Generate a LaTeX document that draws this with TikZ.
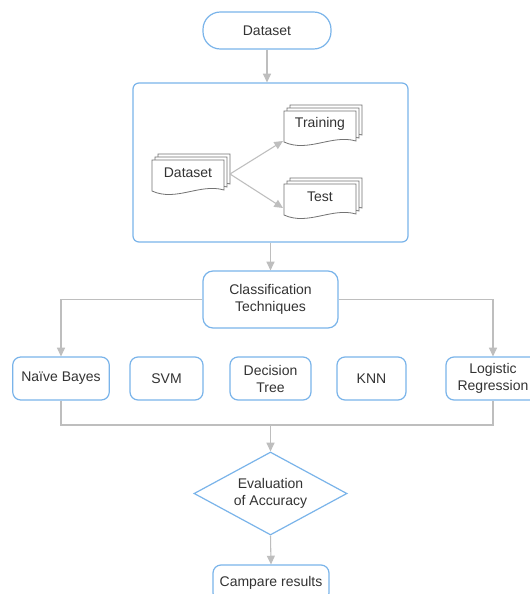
\documentclass[tikz,border=0pt]{standalone}
\usepackage{fontspec}
\setmainfont{Liberation Sans}
\usetikzlibrary{arrows.meta,shapes.geometric,calc}
\definecolor{bblue}{RGB}{122,180,234}
\definecolor{lgray}{RGB}{190,190,190}
\definecolor{dgray}{RGB}{115,115,115}
\definecolor{txt}{RGB}{51,51,51}
\tikzset{
  bluebox/.style={draw=bblue, line width=0.9pt, fill=white, rounded corners=6pt,
    align=center, text=txt, font=\fontsize{10.5pt}{12.75pt}\selectfont, inner sep=1pt},
  arr/.style={draw=lgray, line width=0.8pt, -{Triangle[width=6pt,length=6.5pt]}},
  conn/.style={draw=lgray, line width=0.8pt},
  docline/.style={draw=dgray, line width=0.6pt, fill=white},
  doctext/.style={text=txt, font=\fontsize{10.5pt}{12.75pt}\selectfont, inner sep=1pt},
}
\newcommand{\docat}[4]{%
  \begin{scope}[shift={(#2,#3)}]
    \foreach \o in {6,3,0}{%
      \draw[docline] (\o,-\o) -- (72+\o,-\o) -- (72+\o,30-\o)
        .. controls (48+\o,23-\o) and (24+\o,42-\o) .. (\o,31-\o) -- cycle;
    }
    \node[doctext] (#1) at (36,13) {#4};
  \end{scope}}
\begin{document}
\begin{tikzpicture}[x=0.75pt,y=-0.75pt]
\useasboundingbox (0,0) rectangle (530,594);
\fill[white] (0,0) rectangle (530,594);

% top pill
\node[bluebox, rounded corners=13pt, minimum width=96pt, minimum height=27.75pt] (top) at (267,30.5) {Dataset};

% container
\node[bluebox, rounded corners=4.5pt, minimum width=206.25pt, minimum height=119.25pt] (box) at (270.5,162.5) {};

% documents
\docat{dsdoc}{152}{160}{Dataset}
\docat{train}{284}{111}{Training}
\docat{test}{284}{184}{Test}

% classification
\node[bluebox, rounded corners=7.5pt, minimum width=101.25pt, minimum height=42.75pt] (cls) at (270.5,299.5) {Classification\\Techniques};

% row
\node[bluebox, minimum width=72.4pt, minimum height=32.25pt] (nb) at (61,378.5) {Naïve Bayes};
\node[bluebox, minimum width=54.75pt, minimum height=32.25pt] (svm) at (166.5,378.5) {SVM};
\node[bluebox, minimum width=60.75pt, minimum height=32.25pt] (dt) at (270.5,378.5) {Decision\\Tree};
\node[bluebox, minimum width=51.75pt, minimum height=32.25pt] (knn) at (371.5,378.5) {KNN};
\node[bluebox, minimum width=70.5pt, minimum height=32.25pt] (lr) at (493,378.5) {Logistic\\Regression};

% diamond
\node[bluebox, diamond, rounded corners=0pt, shape aspect=1.84, inner sep=0.5pt, minimum width=114.75pt, minimum height=62.25pt] (dia) at (270.5,493.5) {Evaluation\\of Accuracy};

% compare
\node[bluebox, minimum width=87pt, minimum height=27pt] (camp) at (271,583) {Campare results};

% connectors
\draw[arr] (top.south) -- (top.south |- box.north);
\draw[arr] ($(dsdoc.center)+(42,1)$) -- ($(train.center)+(-37,17)$);
\draw[arr] ($(dsdoc.center)+(42,1)$) -- ($(test.center)+(-37,11)$);
\draw[arr] (cls.north |- box.south) -- (cls.north);
\draw[arr] (cls.west) -| (nb.north);
\draw[arr] (cls.east) -| (lr.north);
\coordinate (j) at (270.5,425);
\draw[conn] (nb.south) |- (j) -| (lr.south);
\draw[arr] (j) -- (dia.north);
\draw[arr] (dia.south) -- (camp.north);
\end{tikzpicture}
\end{document}
